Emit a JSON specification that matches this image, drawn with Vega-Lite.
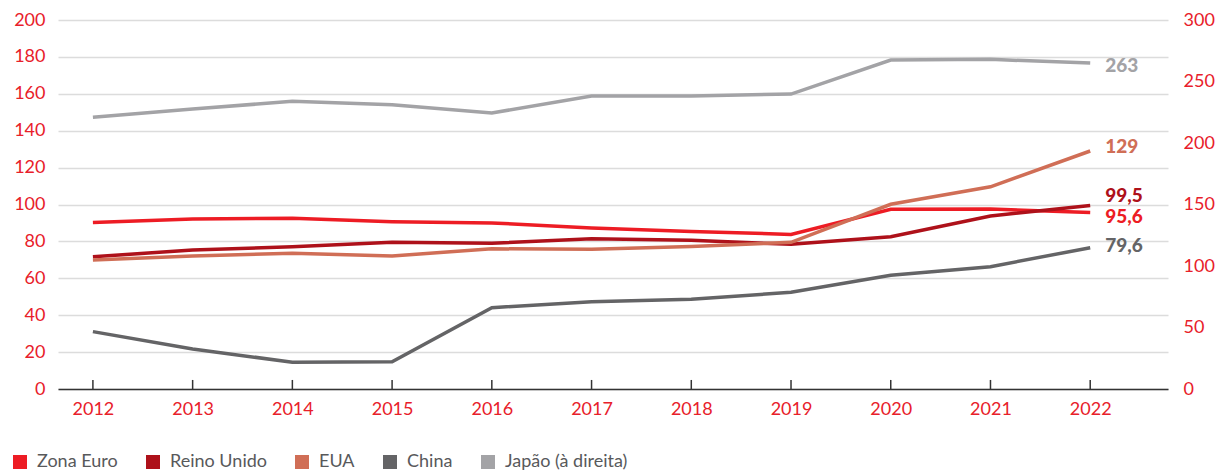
{
  "$schema": "https://vega.github.io/schema/vega-lite/v6.json",
  "autosize": {"type": "none"},
  "padding": {"left": 58, "top": 20, "right": 58, "bottom": 81},
  "width": 1110,
  "height": 369,
  "background": "white",
  "config": {
    "view": {"stroke": null},
    "font": "Lato",
    "axis": {"labelFont": "Lato", "labelFontSize": 18, "labelColor": "#e8202a", "title": null}
  },
  "data": {"values": [
    {"serie": "Zona Euro", "ano": 2012, "valor": 90.3},
    {"serie": "Zona Euro", "ano": 2013, "valor": 92.1},
    {"serie": "Zona Euro", "ano": 2014, "valor": 92.5},
    {"serie": "Zona Euro", "ano": 2015, "valor": 90.7},
    {"serie": "Zona Euro", "ano": 2016, "valor": 90.0},
    {"serie": "Zona Euro", "ano": 2017, "valor": 87.3},
    {"serie": "Zona Euro", "ano": 2018, "valor": 85.4},
    {"serie": "Zona Euro", "ano": 2019, "valor": 83.8},
    {"serie": "Zona Euro", "ano": 2020, "valor": 97.4},
    {"serie": "Zona Euro", "ano": 2021, "valor": 97.5},
    {"serie": "Zona Euro", "ano": 2022, "valor": 95.6, "rotulo": "95,6"},
    {"serie": "Reino Unido", "ano": 2012, "valor": 71.7},
    {"serie": "Reino Unido", "ano": 2013, "valor": 75.3},
    {"serie": "Reino Unido", "ano": 2014, "valor": 77.1},
    {"serie": "Reino Unido", "ano": 2015, "valor": 79.5},
    {"serie": "Reino Unido", "ano": 2016, "valor": 79.0},
    {"serie": "Reino Unido", "ano": 2017, "valor": 81.5},
    {"serie": "Reino Unido", "ano": 2018, "valor": 80.6},
    {"serie": "Reino Unido", "ano": 2019, "valor": 78.4},
    {"serie": "Reino Unido", "ano": 2020, "valor": 82.5},
    {"serie": "Reino Unido", "ano": 2021, "valor": 93.8},
    {"serie": "Reino Unido", "ano": 2022, "valor": 99.5, "rotulo": "99,5"},
    {"serie": "EUA", "ano": 2012, "valor": 69.9},
    {"serie": "EUA", "ano": 2013, "valor": 72.1},
    {"serie": "EUA", "ano": 2014, "valor": 73.6},
    {"serie": "EUA", "ano": 2015, "valor": 72.1},
    {"serie": "EUA", "ano": 2016, "valor": 76.0},
    {"serie": "EUA", "ano": 2017, "valor": 75.7},
    {"serie": "EUA", "ano": 2018, "valor": 77.3},
    {"serie": "EUA", "ano": 2019, "valor": 79.5},
    {"serie": "EUA", "ano": 2020, "valor": 100.1},
    {"serie": "EUA", "ano": 2021, "valor": 109.6},
    {"serie": "EUA", "ano": 2022, "valor": 129, "rotulo": "129"},
    {"serie": "China", "ano": 2012, "valor": 31.1},
    {"serie": "China", "ano": 2013, "valor": 21.7},
    {"serie": "China", "ano": 2014, "valor": 14.5},
    {"serie": "China", "ano": 2015, "valor": 14.8},
    {"serie": "China", "ano": 2016, "valor": 44.1},
    {"serie": "China", "ano": 2017, "valor": 47.3},
    {"serie": "China", "ano": 2018, "valor": 48.6},
    {"serie": "China", "ano": 2019, "valor": 52.4},
    {"serie": "China", "ano": 2020, "valor": 61.6},
    {"serie": "China", "ano": 2021, "valor": 66.3},
    {"serie": "China", "ano": 2022, "valor": 76.6, "rotulo": "79,6"},
    {"serie": "Japão (à direita)", "ano": 2012, "valor": 220.9},
    {"serie": "Japão (à direita)", "ano": 2013, "valor": 227.6},
    {"serie": "Japão (à direita)", "ano": 2014, "valor": 233.9},
    {"serie": "Japão (à direita)", "ano": 2015, "valor": 231.1},
    {"serie": "Japão (à direita)", "ano": 2016, "valor": 224.4},
    {"serie": "Japão (à direita)", "ano": 2017, "valor": 238.2},
    {"serie": "Japão (à direita)", "ano": 2018, "valor": 238.2},
    {"serie": "Japão (à direita)", "ano": 2019, "valor": 239.8},
    {"serie": "Japão (à direita)", "ano": 2020, "valor": 267.5},
    {"serie": "Japão (à direita)", "ano": 2021, "valor": 268.0},
    {"serie": "Japão (à direita)", "ano": 2022, "valor": 265.0, "rotulo": "263"}
  ]},
  "encoding": {
    "x": {
      "field": "ano", "type": "quantitative",
      "scale": {"domain": [2011.65, 2022.78], "nice": false, "zero": false},
      "axis": {
        "values": [2012, 2013, 2014, 2015, 2016, 2017, 2018, 2019, 2020, 2021, 2022],
        "format": "d", "grid": false,
        "domainColor": "#333333", "domainWidth": 1.5,
        "ticks": false,
        "labelPadding": 11, "labelFontSize": 18
      }
    },
    "color": {
      "field": "serie", "type": "nominal",
      "scale": {
        "domain": ["Zona Euro", "Reino Unido", "EUA", "China", "Japão (à direita)"],
        "range": ["#ed1c24", "#ae111a", "#d06e56", "#646466", "#a3a3a6"]
      },
      "legend": {
        "title": null, "orient": "none", "direction": "horizontal",
        "legendX": -47, "legendY": 433, "padding": 0,
        "symbolType": "square", "symbolSize": 196, "symbolStrokeWidth": 0,
        "labelFont": "Lato", "labelFontSize": 18, "labelColor": "#58595b",
        "labelOffset": 8, "columnPadding": 26,
        "encode": {"symbols": {"update": {"fill": {"scale": "color", "field": "value"}, "opacity": {"value": 1}}}}
      }
    }
  },
  "layer": [
    {
      "transform": [{"filter": "datum.serie !== 'Japão (à direita)'"}],
      "encoding": {
        "y": {
          "field": "valor", "type": "quantitative",
          "scale": {"domain": [0, 200], "nice": false},
          "axis": {
            "orient": "left", "values": [0, 20, 40, 60, 80, 100, 120, 140, 160, 180, 200],
            "grid": true, "gridColor": "#dcdcdc", "gridWidth": 1.5,
            "domain": false, "ticks": false, "labelPadding": 13
          }
        }
      },
      "layer": [
        {
          "transform": [{"filter": "datum.serie === 'Zona Euro'"}],
          "mark": {"type": "rule", "strokeWidth": 1.5, "color": "#333333"},
          "encoding": {"y": {"datum": 0}, "y2": {"datum": 4.9}, "color": {"value": "#333333"}}
        },
        {"mark": {"type": "line", "strokeWidth": 3.5}},
        {
          "transform": [{"filter": "datum.serie === 'EUA' && datum.rotulo"}],
          "mark": {"type": "text", "align": "left", "baseline": "middle", "dx": 15, "dy": -4, "fontSize": 19, "fontWeight": 900},
          "encoding": {"text": {"field": "rotulo"}}
        },
        {
          "transform": [{"filter": "datum.serie === 'Reino Unido' && datum.rotulo"}],
          "mark": {"type": "text", "align": "left", "baseline": "middle", "dx": 15, "dy": -9, "fontSize": 19, "fontWeight": 900},
          "encoding": {"text": {"field": "rotulo"}}
        },
        {
          "transform": [{"filter": "datum.serie === 'Zona Euro' && datum.rotulo"}],
          "mark": {"type": "text", "align": "left", "baseline": "middle", "dx": 15, "dy": 4, "fontSize": 19, "fontWeight": 900},
          "encoding": {"text": {"field": "rotulo"}}
        },
        {
          "transform": [{"filter": "datum.serie === 'China' && datum.rotulo"}],
          "mark": {"type": "text", "align": "left", "baseline": "middle", "dx": 15, "dy": -2, "fontSize": 19, "fontWeight": 900},
          "encoding": {"text": {"field": "rotulo"}}
        }
      ]
    },
    {
      "transform": [{"filter": "datum.serie === 'Japão (à direita)'"}],
      "encoding": {
        "y": {
          "field": "valor", "type": "quantitative",
          "scale": {"domain": [0, 300], "nice": false},
          "axis": {
            "orient": "right", "values": [0, 50, 100, 150, 200, 250, 300],
            "grid": false, "domain": false, "ticks": false, "labelPadding": 15
          }
        }
      },
      "layer": [
        {"mark": {"type": "line", "strokeWidth": 3.5}},
        {
          "transform": [{"filter": "datum.rotulo"}],
          "mark": {"type": "text", "align": "left", "baseline": "middle", "dx": 15, "dy": 3, "fontSize": 19, "fontWeight": 900},
          "encoding": {"text": {"field": "rotulo"}}
        }
      ]
    }
  ],
  "resolve": {"scale": {"y": "independent"}}
}
